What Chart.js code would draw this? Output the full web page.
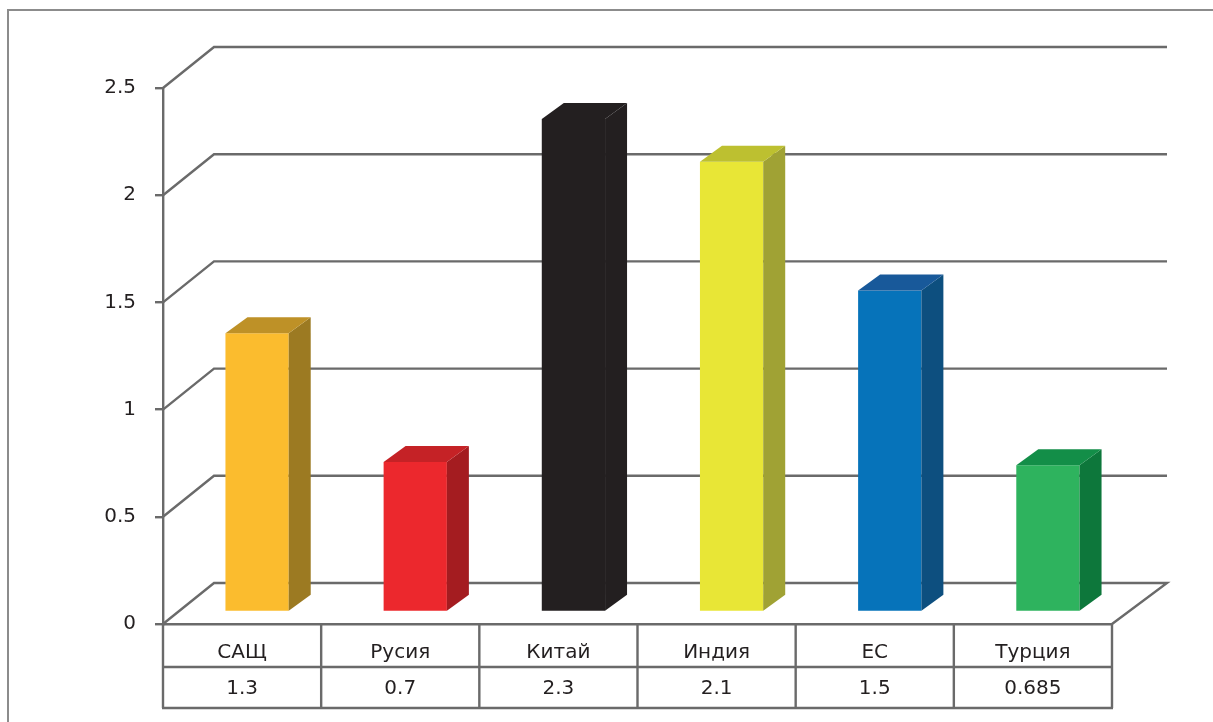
<!DOCTYPE html>
<html>
<head>
<meta charset="utf-8">
<script src="https://cdn.jsdelivr.net/npm/chart.js@4/dist/chart.umd.min.js"></script>
<style>
  html, body { margin: 0; padding: 0; background: #fff; overflow: hidden; }
  canvas { display: block; }
</style>
</head>
<body>
<canvas id="chart" width="1213" height="722"></canvas>
<script>
// Categories and values
const categories = ['САЩ', 'Русия', 'Китай', 'Индия', 'ЕС', 'Турция'];
const values = [1.3, 0.7, 2.3, 2.1, 1.5, 0.685];
const yTicks = [0, 0.5, 1, 1.5, 2, 2.5];

// Face colours of each box: front, right side, top
const frontColors = ['#FBBC2E', '#EC282D', '#231F20', '#E8E636', '#0673BA', '#2EB35E'];
const sideColors  = ['#9C7A22', '#A41C20', '#231F20', '#A0A234', '#0D4F7F', '#0D773B'];
const topColors   = ['#BE9127', '#C52226', '#231F20', '#BDC030', '#18599A', '#138E48'];

const LINE = '#6a6a6a';
const LINE_W = 2.4;
const TEXT = '#231f20';
const FONT = 'DejaVu Sans';
const FONT_SIZE = 20;
const WALL = { dx: 51, dy: -41 };       // depth of the back wall
const BAR_SHIFT = { dx: 15, dy: -12 };  // bars sit a little inside the floor
const BAR_DEPTH = { dx: 22, dy: -16 };  // thickness of each box

const box3d = {
  id: 'box3d',
  beforeDraw(chart) {
    const ctx = chart.ctx;
    ctx.save();
    ctx.fillStyle = '#fff';
    ctx.fillRect(0, 0, chart.width, chart.height);
    ctx.strokeStyle = '#8c8c8c';
    ctx.lineWidth = 2;
    ctx.beginPath();
    ctx.moveTo(8, chart.height);
    ctx.lineTo(8, 10);
    ctx.lineTo(chart.width, 10);
    ctx.stroke();
    ctx.restore();
  },
  beforeDatasetsDraw(chart) {
    const { ctx, chartArea: a, scales: { y } } = chart;
    ctx.save();
    ctx.strokeStyle = LINE;
    ctx.lineWidth = LINE_W;
    yTicks.forEach(v => {
      const py = y.getPixelForValue(v);
      ctx.beginPath();
      ctx.moveTo(a.left, py);
      ctx.lineTo(a.left + WALL.dx, py + WALL.dy);
      ctx.lineTo(a.right + WALL.dx + 4, py + WALL.dy);
      if (v === 0) ctx.lineTo(a.right, py);
      ctx.stroke();
    });
    ctx.restore();
    ctx.save();
    ctx.translate(BAR_SHIFT.dx, BAR_SHIFT.dy);
  },
  afterDatasetsDraw(chart) {
    const ctx = chart.ctx;
    const meta = chart.getDatasetMeta(0);
    meta.data.forEach((bar, i) => {
      const { x, y, base, width } = bar.getProps(['x', 'y', 'base', 'width'], true);
      const l = x - width / 2, r = x + width / 2;
      const t = Math.min(y, base), b = Math.max(y, base);
      // right side
      ctx.fillStyle = sideColors[i];
      ctx.beginPath();
      ctx.moveTo(r, t);
      ctx.lineTo(r + BAR_DEPTH.dx, t + BAR_DEPTH.dy);
      ctx.lineTo(r + BAR_DEPTH.dx, b + BAR_DEPTH.dy);
      ctx.lineTo(r, b);
      ctx.closePath();
      ctx.fill();
      // top
      ctx.fillStyle = topColors[i];
      ctx.beginPath();
      ctx.moveTo(l, t);
      ctx.lineTo(l + BAR_DEPTH.dx, t + BAR_DEPTH.dy);
      ctx.lineTo(r + BAR_DEPTH.dx, t + BAR_DEPTH.dy);
      ctx.lineTo(r, t);
      ctx.closePath();
      ctx.fill();
    });
    ctx.restore();
  },
  afterDraw(chart) {
    // data table under the floor
    const { ctx, chartArea: a } = chart;
    const row1 = 667, row2 = 708;
    ctx.save();
    ctx.strokeStyle = LINE;
    ctx.lineWidth = LINE_W;
    ctx.beginPath();
    ctx.moveTo(a.left, row1); ctx.lineTo(a.right, row1);
    ctx.moveTo(a.left - 1, row2); ctx.lineTo(a.right + 1, row2);
    const step = (a.right - a.left) / categories.length;
    for (let i = 0; i <= categories.length; i++) {
      const px = a.left + step * i;
      ctx.moveTo(px, a.bottom);
      ctx.lineTo(px, row2);
    }
    ctx.stroke();
    ctx.restore();
  }
};

new Chart(document.getElementById('chart'), {
  type: 'bar',
  data: {
    labels: categories,
    datasets: [{
      data: values,
      backgroundColor: frontColors,
      borderWidth: 0,
      barPercentage: 0.4,
      categoryPercentage: 1,
      clip: false
    }]
  },
  options: {
    responsive: false,
    animation: false,
    devicePixelRatio: 1,
    layout: { padding: { top: 88, right: 101, left: 0, bottom: 0 } },
    plugins: { legend: { display: false }, tooltip: { enabled: false } },
    scales: {
      x: {
        afterFit: s => { s.height = 98; },
        grid: { display: false },
        border: { display: true, color: LINE, width: LINE_W },
        ticks: {
          color: TEXT,
          padding: 3,
          maxRotation: 0,
          autoSkip: false,
          font: { family: FONT, size: FONT_SIZE, lineHeight: 36 / FONT_SIZE },
          callback: (val, idx) => [categories[idx], String(values[idx])]
        }
      },
      y: {
        min: 0,
        max: 2.5,
        afterFit: s => { s.width = 163; },
        afterBuildTicks: s => { s.ticks = yTicks.map(v => ({ value: v })); },
        grid: { display: true, drawOnChartArea: false, drawTicks: true, tickLength: 8, color: LINE, lineWidth: LINE_W },
        border: { display: true, color: LINE, width: LINE_W },
        ticks: {
          color: TEXT,
          padding: 19,
          font: { family: FONT, size: FONT_SIZE },
          callback: v => String(v)
        }
      }
    }
  },
  plugins: [box3d]
});
</script>
</body>
</html>
